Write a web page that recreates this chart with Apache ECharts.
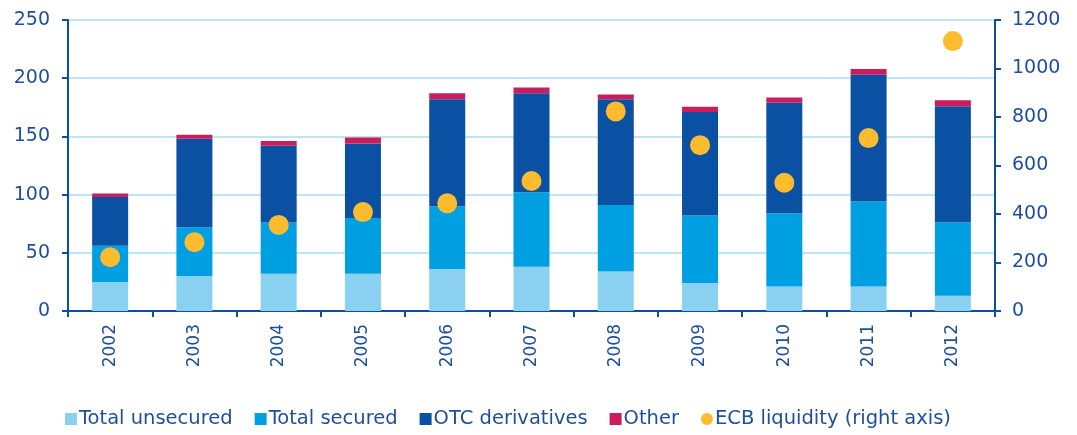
<!DOCTYPE html>
<html>
<head>
<meta charset="utf-8">
<script src="https://cdn.jsdelivr.net/npm/echarts@6/dist/echarts.min.js"></script>
<style>
  html, body { margin: 0; padding: 0; background: #fff; }
  #chart { width: 1077px; height: 435px; }
</style>
</head>
<body>
<div id="chart"></div>
<script>
const years = ['2002', '2003', '2004', '2005', '2006', '2007', '2008', '2009', '2010', '2011', '2012'];
const totalUnsecured = [25, 30, 32, 32, 36, 38, 34, 24, 21, 21, 13];
const totalSecured = [31, 42, 44, 48, 54, 64, 57, 58, 63, 73, 63];
const otcDerivatives = [42, 76, 66, 64, 92, 85, 91, 89, 95, 109, 100];
const other = [3, 3.5, 4, 5, 5, 5, 4, 4.5, 4.5, 5, 5];
const ecbLiquidity = [222, 284, 355, 408, 444, 536, 823, 684, 529, 713, 1113];
const leftTicks = [0, 250, 50];
const rightTicks = [0, 1200, 200];

const axisBlue = '#0b4ea2';
const textBlue = '#1d4f9c';
const font = 'DejaVu Sans';

const chart = echarts.init(document.getElementById('chart'));

function barSeries(name, data, color) {
  return {
    name: name,
    type: 'bar',
    stack: 'total',
    barWidth: 36,
    data: data,
    itemStyle: { color: color },
    emphasis: { disabled: true }
  };
}

chart.setOption({
  animation: false,
  textStyle: { fontFamily: font },
  grid: { left: 68, right: 82, top: 20, bottom: 124 },
  legend: {
    bottom: 1,
    left: 60,
    itemWidth: 12,
    itemHeight: 12,
    itemGap: 22,
    textStyle: { color: textBlue, fontSize: 19.5, fontFamily: font, padding: [0, 0, 0, -3] },
    data: [
      { name: 'Total unsecured', icon: 'rect' },
      { name: 'Total secured', icon: 'rect' },
      { name: 'OTC derivatives', icon: 'rect' },
      { name: 'Other', icon: 'rect' },
      { name: 'ECB liquidity (right axis)', icon: 'circle' }
    ]
  },
  xAxis: {
    type: 'category',
    data: years,
    axisLine: { lineStyle: { color: axisBlue, width: 2 } },
    axisTick: { show: true, length: 6, lineStyle: { color: axisBlue, width: 2 } },
    axisLabel: { rotate: 90, color: textBlue, fontSize: 17, margin: 13, fontFamily: font }
  },
  yAxis: [
    {
      type: 'value',
      min: leftTicks[0],
      max: leftTicks[1],
      interval: leftTicks[2],
      axisLine: { show: true, lineStyle: { color: axisBlue, width: 2 } },
      axisTick: { show: true, length: 6, lineStyle: { color: axisBlue, width: 2 } },
      axisLabel: { color: textBlue, fontSize: 19, margin: 18, fontFamily: font },
      splitLine: { lineStyle: { color: '#bfe6f8', width: 2 } }
    },
    {
      type: 'value',
      position: 'right',
      min: rightTicks[0],
      max: rightTicks[1],
      interval: rightTicks[2],
      axisLine: { show: true, lineStyle: { color: axisBlue, width: 2 } },
      axisTick: { show: true, length: 6, lineStyle: { color: axisBlue, width: 2 } },
      axisLabel: { color: textBlue, fontSize: 19, margin: 17, fontFamily: font, formatter: v => String(v) },
      splitLine: { show: false }
    }
  ],
  series: [
    barSeries('Total unsecured', totalUnsecured, '#8ad1f1'),
    barSeries('Total secured', totalSecured, '#009fe2'),
    barSeries('OTC derivatives', otcDerivatives, '#0a50a3'),
    barSeries('Other', other, '#cb1c5e'),
    {
      name: 'ECB liquidity (right axis)',
      type: 'scatter',
      yAxisIndex: 1,
      symbolSize: 20,
      data: ecbLiquidity,
      itemStyle: { color: '#fdbb2e', opacity: 1 },
      z: 5
    }
  ]
});
</script>
</body>
</html>
